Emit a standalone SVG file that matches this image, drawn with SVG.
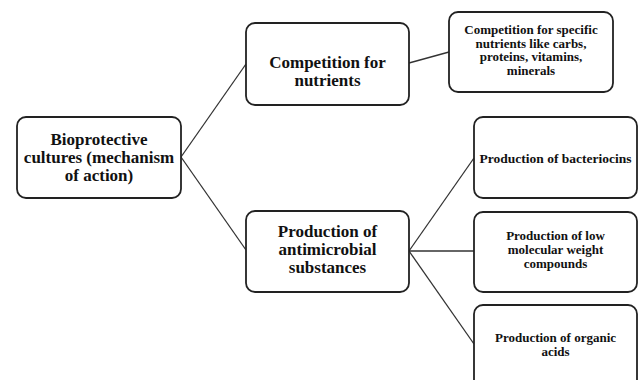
<svg xmlns="http://www.w3.org/2000/svg" width="641" height="380" viewBox="0 0 641 380">
<style>
.box{fill:#fff;stroke:#222;stroke-width:1.8}
.ln{stroke:#333;stroke-width:1.3;fill:none}
text{font-family:"Liberation Serif","Times New Roman",serif;font-weight:bold;fill:#111;text-anchor:middle}
.big{font-size:17px}
.sm{font-size:13px}
</style>
<rect width="641" height="380" fill="#fff"/>
<g id="connectors">
<line class="ln" x1="181" y1="157" x2="246" y2="64"/>
<line class="ln" x1="181" y1="157" x2="246" y2="250"/>
<line class="ln" x1="409" y1="63" x2="449" y2="52"/>
<line class="ln" x1="409" y1="251" x2="474" y2="158"/>
<line class="ln" x1="409" y1="251" x2="474" y2="251"/>
<line class="ln" x1="409" y1="251" x2="474" y2="344"/>
</g>
<g id="root">
<rect class="box" x="17" y="117" width="164" height="81" rx="9"/>
<text class="big" x="99" y="145">Bioprotective</text>
<text class="big" x="99" y="163">cultures (mechanism</text>
<text class="big" x="99" y="181">of action)</text>
</g>
<g id="competition">
<rect class="box" x="246" y="23" width="163" height="82" rx="9"/>
<text class="big" x="327.5" y="68">Competition for</text>
<text class="big" x="327.5" y="86">nutrients</text>
</g>
<g id="specific">
<rect class="box" x="449" y="12" width="164" height="80" rx="9"/>
<text class="sm" x="531" y="34">Competition for specific</text>
<text class="sm" x="531" y="47.5">nutrients like carbs,</text>
<text class="sm" x="531" y="61">proteins, vitamins,</text>
<text class="sm" x="531" y="74.5">minerals</text>
</g>
<g id="production">
<rect class="box" x="246" y="211" width="163" height="81" rx="9"/>
<text class="big" x="327.5" y="237">Production of</text>
<text class="big" x="327.5" y="255">antimicrobial</text>
<text class="big" x="327.5" y="273">substances</text>
</g>
<g id="bacteriocins">
<rect class="box" x="474" y="117" width="163" height="81" rx="9"/>
<text class="sm" x="555.5" y="163" style="font-size:13.5px">Production of bacteriocins</text>
</g>
<g id="lowmw">
<rect class="box" x="474" y="212" width="163" height="80" rx="9"/>
<text class="sm" x="555.5" y="240">Production of low</text>
<text class="sm" x="555.5" y="254">molecular weight</text>
<text class="sm" x="555.5" y="268">compounds</text>
</g>
<g id="organic">
<rect class="box" x="474" y="305" width="163" height="90" rx="9"/>
<text class="sm" x="555.5" y="342">Production of organic</text>
<text class="sm" x="555.5" y="356">acids</text>
</g>
</svg>
